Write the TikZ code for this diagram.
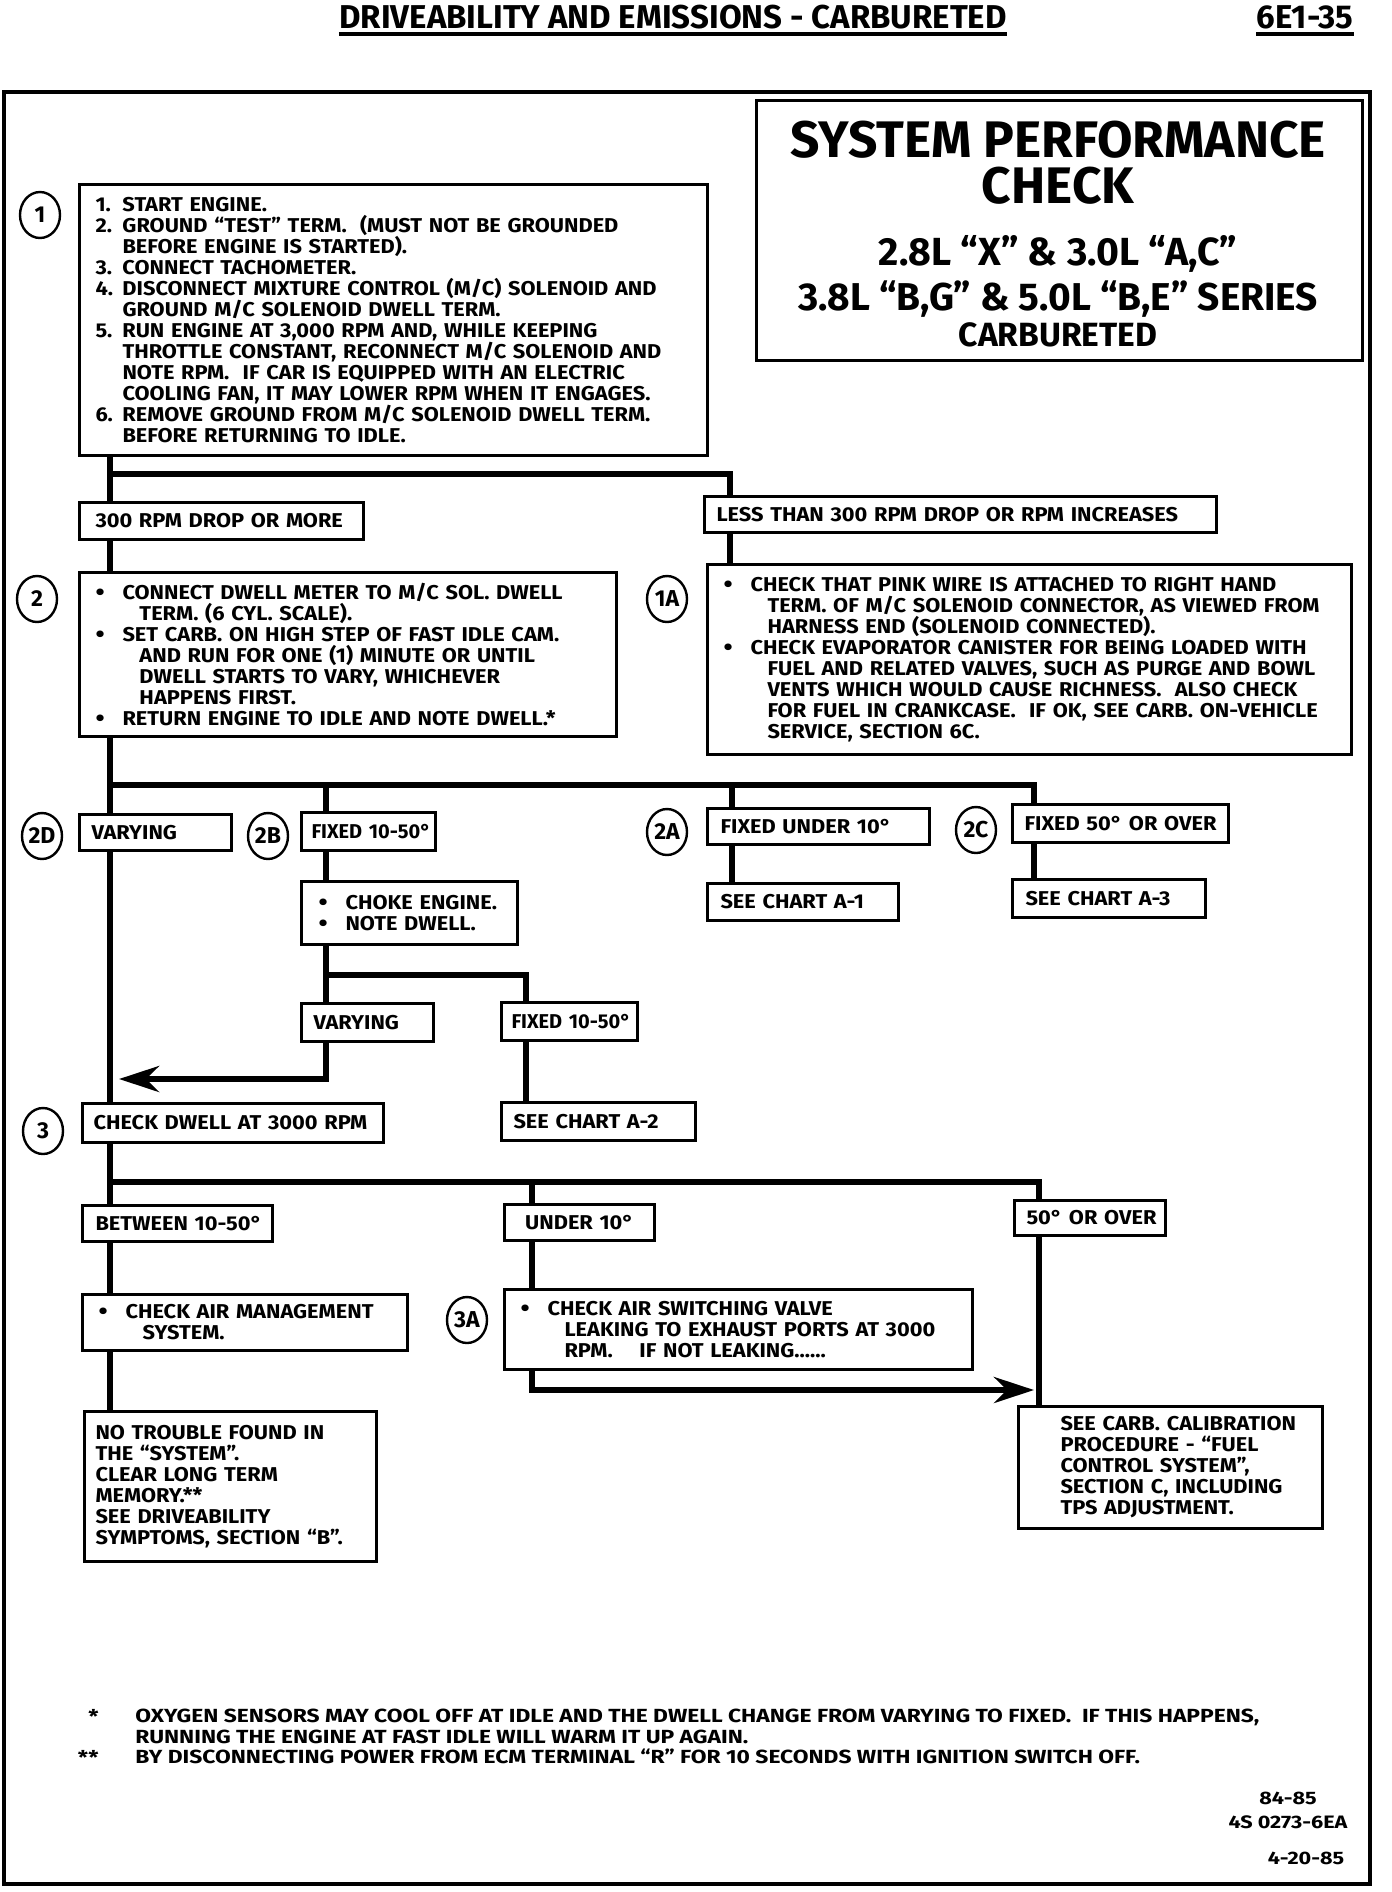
\documentclass[tikz,border=0pt]{standalone}
\usepackage{fontspec}
\setmainfont{Fira Sans}
\newfontfamily\wide{Fira Sans}[FakeStretch=1.09]
\newfontfamily\wider{Fira Sans}[FakeStretch=1.2]
\usetikzlibrary{arrows.meta,shapes.geometric}
\newcommand{\boxfont}{\wide\bfseries\fontsize{10}{10.5}\selectfont}
\newcommand{\tagfont}{\bfseries\fontsize{11.5}{12}\selectfont}
\newcommand{\notefont}{\wider\bfseries\fontsize{9.5}{10.25}\selectfont}
\newcommand{\blt}{\makebox[13.5pt][l]{\raisebox{-0.4pt}{\fontsize{12}{10}\selectfont\textbullet}}}
\newcommand{\itm}[1]{\makebox[13.5pt][l]{#1}}
\newcommand{\ctn}{\hspace*{22pt}}
\newcommand{\sub}{\hspace*{13.5pt}}

\begin{document}
\begin{tikzpicture}[x=0.5pt,y=-0.5pt,>={Stealth[length=20pt,width=13pt]},
  box/.style={draw,line width=1.5pt,fill=white,anchor=north west,align=left,
    inner xsep=8pt,inner ysep=0pt,font=\boxfont},
  tag/.style={draw,ellipse,line width=1.2pt,minimum width=20pt,minimum height=23pt,
    inner sep=0pt,font=\tagfont},
  flow/.style={line width=3pt}]
  \useasboundingbox (0,0) rectangle (1392,1892);

  % Kopf
  \node[font=\bfseries\fontsize{16.5}{18}\selectfont,inner sep=0pt,anchor=base] (hdr) at (673,28)
    {DRIVEABILITY AND EMISSIONS - CARBURETED};
  \draw[line width=2pt] ([yshift=-3pt]hdr.base west) -- ([yshift=-3pt]hdr.base east);
  \node[font=\bfseries\fontsize{16.5}{18}\selectfont,inner sep=0pt,anchor=base] (pg) at (1305,28) {6E1-35};
  \draw[line width=2pt] ([yshift=-3pt]pg.base west) -- ([yshift=-3pt]pg.base east);
  \draw[line width=1.8pt] (4,92) rectangle (1370,1884);

  % Titel
  \node[draw,line width=1.5pt,anchor=north west,minimum width=303pt,minimum height=130pt] (ttl) at (755,99) {};
  \node[font=\bfseries\fontsize{25.7}{23}\selectfont,anchor=north,inner sep=0pt,align=center] (ttla) at (1058,121)
    {SYSTEM PERFORMANCE\\CHECK};
  \node[font=\bfseries\fontsize{19.6}{18}\selectfont,anchor=base,inner sep=0pt] (ttlc) at (1058,265) {2.8L “X” \& 3.0L “A,C”};
  \node[font=\bfseries\fontsize{19.4}{18}\selectfont,anchor=base,inner sep=0pt] (ttld) at (1058,310) {3.8L “B,G” \& 5.0L “B,E” SERIES};
  \node[font=\bfseries\fontsize{16.8}{15}\selectfont,anchor=base,inner sep=0pt] (ttle) at (1058,346) {CARBURETED};

  % Schritt 1
  \node[tag] (c1) at (40,215) {1};
  \node[box,text width=298pt,minimum height=135.5pt] (b1) at (78,183)
    {\itm{1.}START ENGINE.\\
     \itm{2.}GROUND “TEST” TERM.\ \ (MUST NOT BE GROUNDED\\
     \sub BEFORE ENGINE IS STARTED).\\
     \itm{3.}CONNECT TACHOMETER.\\
     \itm{4.}DISCONNECT MIXTURE CONTROL (M/C) SOLENOID AND\\
     \sub GROUND M/C SOLENOID DWELL TERM.\\
     \itm{5.}RUN ENGINE AT 3,000 RPM AND, WHILE KEEPING\\
     \sub THROTTLE CONSTANT, RECONNECT M/C SOLENOID AND\\
     \sub NOTE RPM.\ \ IF CAR IS EQUIPPED WITH AN ELECTRIC\\
     \sub COOLING FAN, IT MAY LOWER RPM WHEN IT ENGAGES.\\
     \itm{6.}REMOVE GROUND FROM M/C SOLENOID DWELL TERM.\\
     \sub BEFORE RETURNING TO IDLE.};
  \node[box,text width=126pt,minimum height=18.5pt] (bdrop) at (78,501) {\mbox{300 RPM DROP OR MORE}};
  \node[box,text width=244pt,minimum height=18pt,inner xsep=6pt] (bless) at (703,495)
    {\mbox{LESS THAN 300 RPM DROP OR RPM INCREASES}};

  % Schritt 2 / 1A
  \node[tag] (c2) at (37,599) {2};
  \node[box,text width=252.5pt,minimum height=82pt] (b2) at (78,571)
    {\blt CONNECT DWELL METER TO M/C SOL. DWELL\\
     \ctn TERM. (6 CYL. SCALE).\\
     \blt SET CARB. ON HIGH STEP OF FAST IDLE CAM.\\
     \ctn AND RUN FOR ONE (1) MINUTE OR UNTIL\\
     \ctn DWELL STARTS TO VARY, WHICHEVER\\
     \ctn HAPPENS FIRST.\\
     \blt RETURN ENGINE TO IDLE AND NOTE DWELL.*};
  \node[tag] (c1a) at (667,599) {1A};
  \node[box,text width=306pt,minimum height=95pt] (b1a) at (706,563)
    {\blt CHECK THAT PINK WIRE IS ATTACHED TO RIGHT HAND\\
     \ctn TERM. OF M/C SOLENOID CONNECTOR, AS VIEWED FROM\\
     \ctn HARNESS END (SOLENOID CONNECTED).\\
     \blt CHECK EVAPORATOR CANISTER FOR BEING LOADED WITH\\
     \ctn FUEL AND RELATED VALVES, SUCH AS PURGE AND BOWL\\
     \ctn VENTS WHICH WOULD CAUSE RICHNESS.\ \ ALSO CHECK\\
     \ctn FOR FUEL IN CRANKCASE.\ \ IF OK, SEE CARB. ON-VEHICLE\\
     \ctn SERVICE, SECTION 6C.};

  % Verzweigung Verweilwinkel
  \node[tag] (c2d) at (42,836) {2D};
  \node[box,text width=64pt,minimum height=18pt,inner xsep=6pt] (bvar) at (78,813) {\mbox{VARYING}};
  \node[tag] (c2b) at (268,836) {2B};
  \node[box,text width=57pt,minimum height=19pt,inner xsep=5pt,font=\bfseries\fontsize{10}{10.5}\selectfont] (bfix) at (300,811) {\mbox{FIXED 10-50°}};
  \node[tag] (c2a) at (667,832) {2A};
  \node[box,text width=98pt,minimum height=18pt,inner xsep=6.5pt] (bunder) at (706,807) {\mbox{FIXED UNDER 10°}};
  \node[tag] (c2c) at (976,830) {2C};
  \node[box,text width=96pt,minimum height=19pt,inner xsep=6pt] (bover) at (1011,803) {\mbox{FIXED 50° OR OVER}};
  \node[box,text width=82.5pt,minimum height=18.5pt,inner xsep=6.5pt] (bA1) at (706,882) {\mbox{SEE CHART A-1}};
  \node[box,text width=83.5pt,minimum height=19pt,inner xsep=6.5pt] (bA3) at (1011,878) {\mbox{SEE CHART A-3}};
  \node[box,text width=91pt,minimum height=31.5pt,inner xsep=8.5pt] (bchoke) at (300,880)
    {\blt CHOKE ENGINE.\\ \blt NOTE DWELL.};
  \node[box,text width=54pt,minimum height=19pt,inner xsep=6pt] (bvar2) at (300,1002) {\mbox{VARYING}};
  \node[box,text width=58pt,minimum height=19pt,inner xsep=5pt,font=\bfseries\fontsize{10}{10.5}\selectfont] (bfix2) at (500,1001) {\mbox{FIXED 10-50°}};
  \node[box,text width=85pt,minimum height=19pt,inner xsep=6pt] (bA2) at (500,1101) {\mbox{SEE CHART A-2}};

  % Schritt 3
  \node[tag] (c3) at (43,1131) {3};
  \node[box,text width=139.5pt,minimum height=19.5pt,inner xsep=5.5pt] (bdwell) at (81,1102) {\mbox{CHECK DWELL AT 3000 RPM}};
  \node[box,text width=82pt,minimum height=18pt,inner xsep=6.5pt] (bbetw) at (81,1204) {\mbox{BETWEEN 10-50°}};
  \node[box,text width=67pt,minimum height=18pt,inner xsep=4pt,align=center] (bund10) at (503,1203) {\mbox{UNDER 10°}};
  \node[box,text width=63.5pt,minimum height=17.5pt,inner xsep=6pt,align=center] (b50) at (1013,1199) {\mbox{50° OR OVER}};
  \node[box,text width=146.5pt,minimum height=28pt] (bair) at (81,1293)
    {\blt CHECK AIR MANAGEMENT\\ \ctn SYSTEM.};
  \node[box,text width=135pt,minimum height=75pt,inner xsep=5.5pt] (bnot) at (83,1410)
    {NO TROUBLE FOUND IN\\ THE “SYSTEM”.\\ CLEAR LONG TERM\\ MEMORY.**\\
     SEE DRIVEABILITY\\ SYMPTOMS, SECTION “B”.};
  \node[tag] (c3a) at (467,1320) {3A};
  \node[box,text width=218pt,minimum height=40pt] (b3a) at (503,1288)
    {\blt CHECK AIR SWITCHING VALVE\\
     \ctn LEAKING TO EXHAUST PORTS AT 3000\\
     \ctn RPM.\ \ \ \ IF NOT LEAKING......};
  \node[box,text width=110pt,minimum height=61pt,inner xsep=21pt] (bcarb) at (1017,1405)
    {\mbox{SEE CARB. CALIBRATION}\\ \mbox{PROCEDURE - “FUEL}\\ \mbox{CONTROL SYSTEM”,}\\
     \mbox{SECTION C, INCLUDING}\\ \mbox{TPS ADJUSTMENT.}};

  % Linien
  \coordinate (tk) at (110,0);
  \draw[flow] (b1.south -| tk) -- (bdrop.north -| tk);
  \draw[flow] (bdrop.south -| tk) -- (b2.north -| tk);
  \draw[flow] (b2.south -| tk) -- (bvar.north -| tk);
  \draw[flow] (bvar.south -| tk) -- (bdwell.north -| tk);
  \draw[flow] (bdwell.south -| tk) -- (bbetw.north -| tk);
  \draw[flow] (bbetw.south -| tk) -- (bair.north -| tk);
  \draw[flow] (bair.south -| tk) -- (bnot.north -| tk);

  \coordinate (r1) at (730,474);
  \draw[flow] (r1 -| tk) -- (r1) -- (bless.north -| r1);
  \draw[flow] (bless.south -| r1) -- (b1a.north -| r1);

  \coordinate (r2) at (1034,785);
  \coordinate (xB) at (326,0);
  \coordinate (xA) at (732,0);
  \draw[flow] (r2 -| tk) -- (r2) -- (bover.north -| r2);
  \draw[flow] (r2 -| xB) -- (bfix.north -| xB);
  \draw[flow] (r2 -| xA) -- (bunder.north -| xA);
  \draw[flow] (bunder.south -| xA) -- (bA1.north -| xA);
  \draw[flow] (bover.south -| r2) -- (bA3.north -| r2);
  \draw[flow] (bfix.south -| xB) -- (bchoke.north -| xB);

  \coordinate (r3) at (526,975);
  \draw[flow] (bchoke.south -| xB) -- (r3 -| xB) -- (r3) -- (bfix2.north -| r3);
  \draw[flow] (r3 -| xB) -- (bvar2.north -| xB);
  \draw[flow] (bfix2.south -| r3) -- (bA2.north -| r3);
  \coordinate (ar1) at (326,1079);
  \coordinate (ar1e) at (119,1079);
  \draw[flow,->] (bvar2.south -| xB) -- (ar1) -- (ar1e);

  \coordinate (r4) at (1039,1182);
  \coordinate (xU) at (532,0);
  \draw[flow] (r4 -| tk) -- (r4) -- (b50.north -| r4);
  \draw[flow] (r4 -| xU) -- (bund10.north -| xU);
  \draw[flow] (bund10.south -| xU) -- (b3a.north -| xU);
  \draw[flow] (b50.south -| r4) -- (bcarb.north -| r4);
  \coordinate (ar2) at (532,1390);
  \coordinate (ar2e) at (1034,1390);
  \draw[flow,->] (b3a.south -| xU) -- (ar2) -- (ar2e);

  % Fussnoten
  \node[font=\notefont,align=right,anchor=north east,inner sep=0pt] (fnm) at (99,1709)
    {*\\ \\ **};
  \node[font=\notefont,align=left,anchor=north west,inner sep=0pt] (fn) at (135,1709)
    {OXYGEN SENSORS MAY COOL OFF AT IDLE AND THE DWELL CHANGE FROM VARYING TO FIXED.\ \ IF THIS HAPPENS,\\
     RUNNING THE ENGINE AT FAST IDLE WILL WARM IT UP AGAIN.\\
     BY DISCONNECTING POWER FROM ECM TERMINAL “R” FOR 10 SECONDS WITH IGNITION SWITCH OFF.};
  \node[font=\wider\bfseries\fontsize{9}{10}\selectfont,inner sep=0pt] (rev1) at (1288,1798) {84-85};
  \node[font=\wider\bfseries\fontsize{9}{10}\selectfont,inner sep=0pt] (rev2) at (1288,1822) {4S 0273-6EA};
  \node[font=\wider\bfseries\fontsize{9}{10}\selectfont,inner sep=0pt] (rev3) at (1306,1858) {4-20-85};
\end{tikzpicture}
\end{document}
